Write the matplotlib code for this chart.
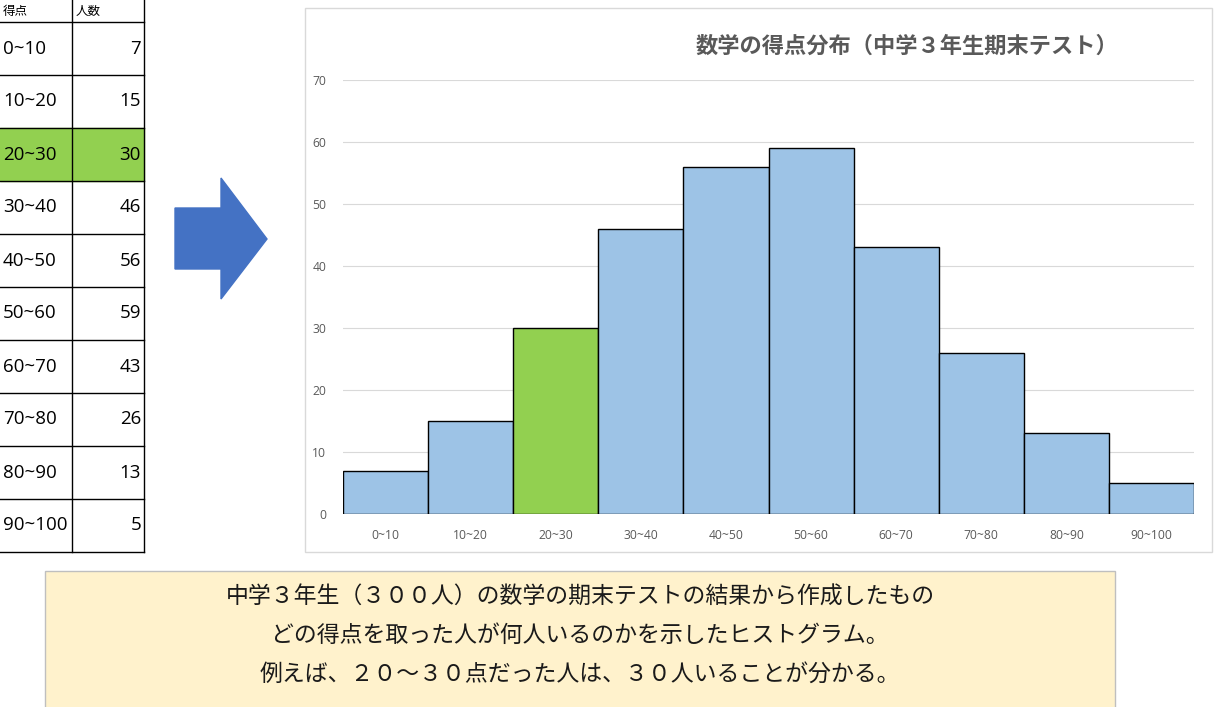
import matplotlib
matplotlib.use("Agg")
import matplotlib.pyplot as plt
from matplotlib.patches import Rectangle, Polygon

plt.rcParams['font.family'] = ['Noto Sans CJK JP', 'DejaVu Sans']
LATIN = ['Open Sans', 'Noto Sans CJK JP', 'DejaVu Sans']

# ==== data ====
ranges = ["0~10", "10~20", "20~30", "30~40", "40~50",
          "50~60", "60~70", "70~80", "80~90", "90~100"]
counts = [7, 15, 30, 46, 56, 59, 43, 26, 13, 5]
highlight = "20~30"
header = ["得点", "人数"]
title = "数学の得点分布（中学３年生期末テスト）"
notes = ["中学３年生（３００人）の数学の期末テストの結果から作成したもの",
         "どの得点を取った人が何人いるのかを示したヒストグラム。",
         "例えば、２０～３０点だった人は、３０人いることが分かる。"]

W, H = 1225, 707
BLUE = "#9DC3E6"
GREEN = "#92D050"
GRAY = "#595959"

fig = plt.figure(figsize=(W / 100, H / 100), dpi=100)

# overlay axes in pixel coords (y downwards)
bg = fig.add_axes([0, 0, 1, 1])
bg.set_xlim(0, W)
bg.set_ylim(H, 0)
bg.axis("off")

# ---- table ----
row_h, top = 53, 22
bg.text(3, 11, header[0], fontsize=9, va="center", ha="left")
bg.text(76, 11, header[1], fontsize=9, va="center", ha="left")
for i, (r, c) in enumerate(zip(ranges, counts)):
    y0 = top + i * row_h
    if r == highlight:
        bg.add_patch(Rectangle((0, y0), 144, row_h, color=GREEN, zorder=0))
    bg.text(3, y0 + row_h / 2, r, fontsize=13.5, va="center", ha="left",
            family=LATIN)
    bg.text(141, y0 + row_h / 2, str(c), fontsize=13.5, va="center",
            ha="right", family=LATIN)
for i in range(len(ranges) + 1):
    bg.plot([0, 144], [top + i * row_h] * 2, color="black", lw=1)
for x in (72, 144):
    bg.plot([x, x], [0, top + len(ranges) * row_h], color="black", lw=1)

# ---- arrow ----
bg.add_patch(Polygon([(175, 208), (221, 208), (221, 178), (267, 239),
                      (221, 299), (221, 269), (175, 269)],
                     closed=True, color="#4472C4"))

# ---- chart frame ----
bg.add_patch(Rectangle((305, 8), 907, 544, fill=False, ec="#D9D9D9", lw=1))
bg.text(907, 46, title, fontsize=16, fontweight="bold", color=GRAY,
        ha="center", va="center")

# ---- note box ----
bg.add_patch(Rectangle((45, 571), 1070, 140, fc="#FFF2CC", ec="#BFBFBF", lw=1))
for k, line in enumerate(notes):
    bg.text(580, 597 + k * 38.5, line, fontsize=16.5, color="#1a1a1a",
            ha="center", va="center")

# ==== histogram ====
ax = fig.add_axes([343 / W, (H - 514) / H, 851 / W, 434 / H])
ax.set_facecolor("none")
x = range(len(ranges))
colors = [GREEN if r == highlight else BLUE for r in ranges]
ax.bar(x, counts, width=1.0, color=colors, edgecolor="black", lw=1, zorder=3)
ax.set_xlim(-0.5, len(ranges) - 0.5)
ax.set_ylim(0, 70)
ax.set_yticks(range(0, 71, 10))
ax.set_xticks(list(x))
ax.set_xticklabels(ranges, family=LATIN)
ax.set_yticklabels([str(v) for v in range(0, 71, 10)], family=LATIN)
ax.tick_params(axis="both", length=0, labelsize=8.7, labelcolor=GRAY)
ax.tick_params(axis="y", pad=12)
ax.tick_params(axis="x", pad=11)
ax.grid(True, axis="y", color="#D9D9D9", lw=0.8, zorder=0)
for s in ax.spines.values():
    s.set_visible(False)

fig.savefig("out.png", dpi=100)
